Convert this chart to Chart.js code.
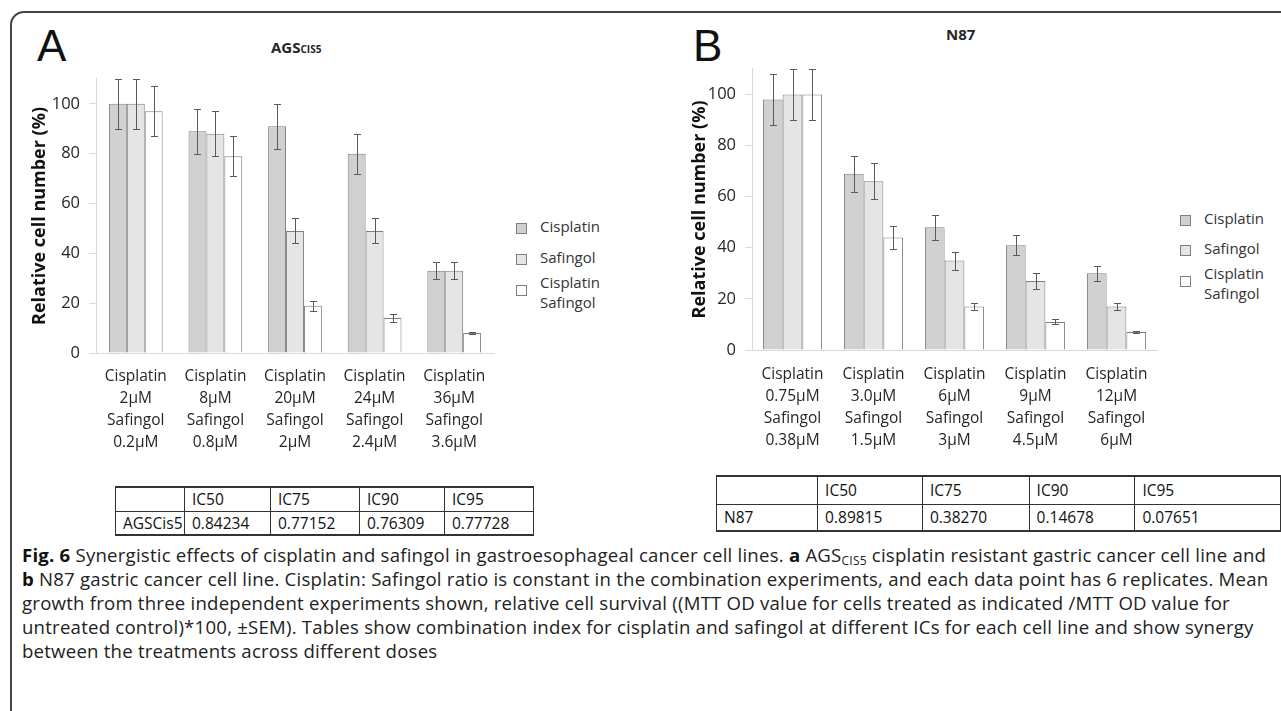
<!DOCTYPE html>
<html>
<head>
<meta charset="utf-8">
<script src="https://cdn.jsdelivr.net/npm/chart.js@4/dist/chart.umd.min.js"></script>
<style>
  body { margin: 0; width: 1281px; height: 711px; background: #fff; overflow: hidden;
         font-family: "Open Sans", sans-serif; color: #262626; position: relative; }
  .frame { position: absolute; left: 10px; top: 11px; width: 1300px; height: 720px;
           border: 2px solid #444; border-radius: 14px 0 0 0; }
  .abs { position: absolute; }
  .letter { font-family: "Liberation Sans", Arial, sans-serif; font-size: 44px; line-height: 44px; color: #111; }
  .ttl { font-weight: bold; font-size: 15px; color: #262626; }
  .legend { font-size: 15px; color: #333; }
  .legend .row { position: absolute; left: 0; white-space: nowrap; }
  .legend .sw { position: absolute; left: 0; width: 9px; height: 9px; border: 1px solid #7f7f7f; }
  .legend .tx { position: absolute; left: 24px; line-height: 20px; }
  table { position: absolute; border-collapse: collapse; font-size: 15.5px; color: #111; }
  td { border-left: 1px solid #333; border-right: 1px solid #333; padding: 0 0 0 7px; text-align: left; }
  tr.r1 td { border-top: 2px solid #333; border-bottom: 1px solid #333; }
  tr.r2 td { border-bottom: 2px solid #333; }
  .cap { position: absolute; left: 22px; top: 543px; font-size: 18.6px; line-height: 24px; letter-spacing: 0.22px;
         color: #222; white-space: nowrap; }
  .cap b { color: #111; }
  sub { font-size: 12px; line-height: 0; position: relative; top: 3px; vertical-align: baseline; }
</style>
</head>
<body>
<div class="frame"></div>

<div class="abs letter" style="left:37px; top:24px;">A</div>
<div class="abs ttl" style="left:271px; top:37px;">AGS<span style="font-size:10px;">CIS5</span></div>
<canvas id="chartA" class="abs" style="left:20px; top:60px;" width="480" height="400"></canvas>
<div class="abs legend" style="left:516px; top:216px;">
  <div class="row" style="top:0;"><div class="sw" style="top:7px; background:#d0d0d0;"></div><div class="tx">Cisplatin</div></div>
  <div class="row" style="top:31px;"><div class="sw" style="top:7px; background:#e5e5e5;"></div><div class="tx">Safingol</div></div>
  <div class="row" style="top:62px;"><div class="sw" style="top:7px; background:#fff;"></div><div class="tx" style="top:-6px;">Cisplatin<br>Safingol</div></div>
</div>

<div class="abs letter" style="left:693px; top:24px;">B</div>
<div class="abs ttl" style="left:946px; top:24px;">N87</div>
<canvas id="chartB" class="abs" style="left:680px; top:50px;" width="485" height="410"></canvas>
<div class="abs legend" style="left:1180px; top:208px;">
  <div class="row" style="top:0;"><div class="sw" style="top:7px; background:#d0d0d0;"></div><div class="tx">Cisplatin</div></div>
  <div class="row" style="top:30px;"><div class="sw" style="top:7px; background:#e5e5e5;"></div><div class="tx">Safingol</div></div>
  <div class="row" style="top:61px;"><div class="sw" style="top:7px; background:#fff;"></div><div class="tx" style="top:-6px;">Cisplatin<br>Safingol</div></div>
</div>

<table style="left:115px; top:486px;">
  <tr class="r1" style="height:24px;"><td style="width:61px;"></td><td style="width:78px;">IC50</td><td style="width:81px;">IC75</td><td style="width:77px;">IC90</td><td style="width:81px;">IC95</td></tr>
  <tr class="r2" style="height:24px;"><td>AGSCis5</td><td>0.84234</td><td>0.77152</td><td>0.76309</td><td>0.77728</td></tr>
</table>

<table style="left:716px; top:475px;">
  <tr class="r1" style="height:28px;"><td style="width:95px;"></td><td style="width:98px;">IC50</td><td style="width:100px;">IC75</td><td style="width:99px;">IC90</td><td style="width:140px;">IC95</td></tr>
  <tr class="r2" style="height:27px;"><td>N87</td><td>0.89815</td><td>0.38270</td><td>0.14678</td><td>0.07651</td></tr>
</table>

<div class="cap">
<b>Fig. 6</b> Synergistic effects of cisplatin and safingol in gastroesophageal cancer cell lines. <b>a</b> AGS<sub>CIS5</sub> cisplatin resistant gastric cancer cell line and<br>
<b>b</b> N87 gastric cancer cell line. Cisplatin: Safingol ratio is constant in the combination experiments, and each data point has 6 replicates. Mean<br>
growth from three independent experiments shown, relative cell survival ((MTT OD value for cells treated as indicated /MTT OD value for<br>
untreated control)*100, ±SEM). Tables show combination index for cisplatin and safingol at different ICs for each cell line and show synergy<br>
between the treatments across different doses
</div>

<script>
// panel A: AGS CIS5
const labelsA = [
  ["Cisplatin", "2µM", "Safingol", "0.2µM"],
  ["Cisplatin", "8µM", "Safingol", "0.8µM"],
  ["Cisplatin", "20µM", "Safingol", "2µM"],
  ["Cisplatin", "24µM", "Safingol", "2.4µM"],
  ["Cisplatin", "36µM", "Safingol", "3.6µM"]
];
const cisplatinA     = [100, 89, 91, 80, 33];
const cisplatinErrA  = [10, 9, 9, 8, 3.5];
const safingolA      = [100, 88, 49, 49, 33];
const safingolErrA   = [10, 9, 5, 5, 3.5];
const comboA         = [97, 79, 19, 14, 8];
const comboErrA      = [10, 8, 2, 1.5, 0.5];

// panel B: N87
const labelsB = [
  ["Cisplatin", "0.75µM", "Safingol", "0.38µM"],
  ["Cisplatin", "3.0µM", "Safingol", "1.5µM"],
  ["Cisplatin", "6µM", "Safingol", "3µM"],
  ["Cisplatin", "9µM", "Safingol", "4.5µM"],
  ["Cisplatin", "12µM", "Safingol", "6µM"]
];
const cisplatinB     = [98, 69, 48, 41, 30];
const cisplatinErrB  = [10, 7, 5, 4, 3];
const safingolB      = [100, 66, 35, 27, 17];
const safingolErrB   = [10, 7, 3.5, 3, 1.5];
const comboB         = [100, 44, 17, 11, 7];
const comboErrB      = [10, 4.5, 1.5, 1, 0.5];

const yTicks = [0, 20, 40, 60, 80, 100];

Chart.defaults.font.family = "'Open Sans', sans-serif";
Chart.defaults.color = "#262626";

// draws +-SEM whiskers on each bar
const errorBars = {
  id: "errorBars",
  afterDatasetsDraw(chart) {
    var ctx = chart.ctx, y = chart.scales.y;
    ctx.save();
    ctx.strokeStyle = "#595959";
    ctx.lineWidth = 1;
    chart.data.datasets.forEach(function(ds, i) {
      chart.getDatasetMeta(i).data.forEach(function(bar, j) {
        var top = Math.round(y.getPixelForValue(ds.data[j] + ds.errors[j])) + 0.5;
        var bot = Math.round(y.getPixelForValue(ds.data[j] - ds.errors[j])) + 0.5;
        var x = Math.round(bar.x) + 0.5;
        ctx.beginPath();
        ctx.moveTo(x, top); ctx.lineTo(x, bot);
        ctx.moveTo(x - 3.5, top); ctx.lineTo(x + 3.5, top);
        ctx.moveTo(x - 3.5, bot); ctx.lineTo(x + 3.5, bot);
        ctx.stroke();
      });
    });
    ctx.restore();
  }
};

function makeDataset(data, errors, color) {
  return {
    data: data,
    errors: errors,
    backgroundColor: color,
    borderColor: "#7f7f7f",
    borderWidth: 1,
    borderSkipped: "bottom"
  };
}

function createChart(canvas, labels, sets, opts) {
  return new Chart(canvas, {
    type: "bar",
    data: {
      labels: labels,
      datasets: sets
    },
    plugins: [errorBars],
    options: {
      responsive: false,
      animation: false,
      devicePixelRatio: 1,
      categoryPercentage: opts.catPct,
      barPercentage: 1.0,
      layout: { padding: { top: 15, right: opts.padRight, left: 0, bottom: 0 } },
      plugins: { legend: { display: false }, tooltip: { enabled: false } },
      scales: {
        x: {
          grid: { display: false },
          border: { color: "#d9d9d9" },
          ticks: { font: { size: 15.5, lineHeight: 1.42 }, color: "#262626", padding: opts.xPad,
                   maxRotation: 0, autoSkip: false },
          afterFit: function(scale) { scale.height = opts.xHeight; }
        },
        y: {
          min: 0,
          max: 110,
          grid: { display: true, drawOnChartArea: false, drawTicks: true, tickLength: 7, color: "#d9d9d9" },
          border: { color: "#d9d9d9" },
          ticks: { font: { size: 16.5 }, color: "#262626", padding: 9 },
          afterBuildTicks: function(scale) {
            scale.ticks = yTicks.map(function(v) { return { value: v }; });
          },
          title: { display: true, text: "Relative cell number (%)", font: { size: 18, weight: "bold" },
                   color: "#111", padding: { top: opts.titlePad, bottom: 0 } },
          afterFit: function(scale) { scale.width = opts.yWidth; }
        }
      }
    }
  });
}

createChart(document.getElementById("chartA"), labelsA, [
  makeDataset(cisplatinA, cisplatinErrA, "#d0d0d0"),
  makeDataset(safingolA, safingolErrA, "#e5e5e5"),
  makeDataset(comboA, comboErrA, "#ffffff")
], { catPct: 0.675, padRight: 6, xPad: 5, xHeight: 107, yWidth: 76, titlePad: 9 });

createChart(document.getElementById("chartB"), labelsB, [
  makeDataset(cisplatinB, cisplatinErrB, "#d0d0d0"),
  makeDataset(safingolB, safingolErrB, "#e5e5e5"),
  makeDataset(comboB, comboErrB, "#ffffff")
], { catPct: 0.73, padRight: 8, xPad: 6, xHeight: 110, yWidth: 72, titlePad: 9 });
</script>
</body>
</html>
